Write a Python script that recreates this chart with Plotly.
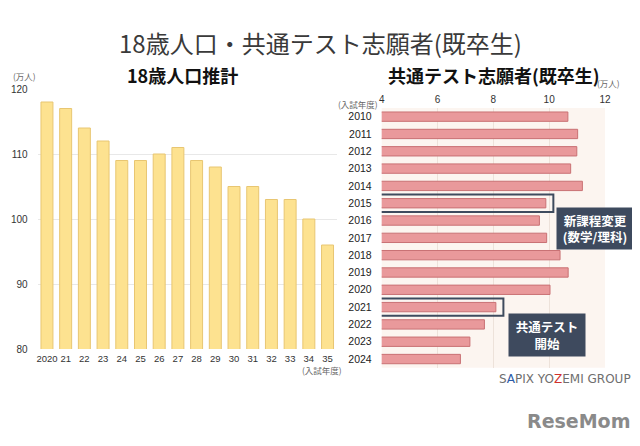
import plotly.graph_objects as go

# ---- data ----
pop_years = ["2020", "21", "22", "23", "24", "25", "26", "27", "28", "29",
             "30", "31", "32", "33", "34", "35"]
pop_values = [118, 117, 114, 112, 109, 109, 110, 111, 109, 108,
              105, 105, 103, 103, 100, 96]

app_years = ["2010", "2011", "2012", "2013", "2014", "2015", "2016", "2017",
             "2018", "2019", "2020", "2021", "2022", "2023", "2024"]
app_values = [10.67, 11.02, 10.99, 10.77, 11.19, 9.88, 9.65, 9.91,
              10.39, 10.68, 10.03, 8.09, 7.68, 7.16, 6.82]

pop_ticks = [80, 90, 100, 110, 120]
app_ticks = [4, 6, 8, 10, 12]
highlight_years = ["2015", "2021"]

W, H = 640, 446
OX, OY = 8, 8  # page body margin offset
FONT = "Liberation Sans, Arial, sans-serif"
JP = "Noto Sans CJK JP, sans-serif"


def px(x):
    return (x - OX) / W


def py(y):
    return 1 - (y - OY) / H


fig = go.Figure()

fig.add_trace(go.Bar(
    x=pop_years, y=pop_values, xaxis="x", yaxis="y",
    marker=dict(color="#FDE290", line=dict(color="#E8C672", width=1)),
    showlegend=False, hoverinfo="x+y"))

fig.add_trace(go.Bar(
    x=app_values, y=app_years, orientation="h", xaxis="x2", yaxis="y2",
    base=0, width=0.54,
    marker=dict(color="#E9999B", line=dict(color="#C97174", width=1)),
    showlegend=False, hoverinfo="x+y"))

fig.update_layout(
    width=W, height=H,
    margin=dict(l=0, r=0, t=0, b=0, pad=0, autoexpand=False),
    paper_bgcolor="white", plot_bgcolor="rgba(0,0,0,0)",
    font=dict(family=FONT, color="#333"),
    bargap=0.36,
    xaxis=dict(domain=[px(37.6), px(336.9)], range=[-0.5, 15.5],
               type="category", showgrid=False, zeroline=False,
               showline=False, ticks="", tickfont=dict(size=9.5, color="#333"),
               ticklabelstandoff=2, fixedrange=True, automargin=False),
    yaxis=dict(domain=[py(349), py(89)], range=[80, 120],
               tickvals=pop_ticks, showgrid=True, gridcolor="#E8E8E8",
               gridwidth=1, zeroline=False, showline=False, ticks="",
               tickfont=dict(size=10, color="#333"), ticklabelstandoff=9,
               fixedrange=True, automargin=False),
    xaxis2=dict(domain=[px(381.7), px(605)], range=[4, 12], anchor="y2",
                side="top", tickvals=app_ticks, showgrid=True,
                gridcolor="#EDE2DA", gridwidth=1, zeroline=False,
                showline=False, ticks="", tickfont=dict(size=10, color="#333"),
                ticklabelstandoff=2, fixedrange=True, automargin=False),
    yaxis2=dict(domain=[py(367.7), py(108)], range=[14.5, -0.5],
                type="category", anchor="x2", showgrid=False, zeroline=False,
                showline=False, ticks="", tickfont=dict(size=10.5, color="#222"),
                ticklabelstandoff=9, fixedrange=True, automargin=False),
)

shapes = []
# right panel background
shapes.append(dict(type="rect", xref="x2 domain", yref="y2 domain",
                   x0=0, x1=1, y0=0, y1=1.0, fillcolor="#FCF5F0",
                   line=dict(width=0), layer="below"))
# highlight boxes around selected rows
for yr in highlight_years:
    i = app_years.index(yr)
    shapes.append(dict(type="rect", xref="x2", yref="y2",
                       x0=2.83, x1=app_values[i] + 0.27,
                       y0=i - 0.5, y1=i + 0.5,
                       line=dict(color="#3E4B5E", width=2),
                       fillcolor="rgba(0,0,0,0)", layer="above"))
fig.update_layout(shapes=shapes)


def note(text, x, y, size, color, family=JP, **kw):
    d = dict(text=text, x=px(x), y=py(y), xref="paper", yref="paper",
             xanchor="center", yanchor="middle", showarrow=False,
             font=dict(family=family, size=size, color=color))
    d.update(kw)
    return d


ann = [
    note("18歳人口・共通テスト志願者(既卒生)", 320, 42, 24, "#3A3A3A"),
    note("<b>18歳人口推計</b>", 182, 75, 18, "#111"),
    note("<b>共通テスト志願者(既卒生)</b>", 494, 75, 18, "#111"),
    note("(万人)", 24, 76, 8.5, "#666"),
    note("(入試年度)", 322, 370, 8.5, "#666"),
    note("(万人)", 608, 83, 8.5, "#666"),
    note("(入試年度)", 358, 104, 8.5, "#666"),
    note("<b>新課程変更<br>(数学/理科)</b>", 594.5, 228.5, 12.5, "white",
         width=76, height=41, bgcolor="#3E4A5E", borderpad=0),
    note("<b>共通テスト<br>開始</b>", 547, 335, 12.5, "white",
         width=76, height=42, bgcolor="#3E4A5E", borderpad=0),
    note("S<span style='color:#2B5BA8'>A</span>PIX YO"
         "<span style='color:#D0312D'>Z</span>EMI GROUP", 565, 379, 12,
         "#6E6E6E", family="DejaVu Sans, sans-serif"),
    note("<b>ReseMom</b>", 578, 421, 19, "#8A8A8A",
         family="DejaVu Sans, sans-serif"),
]
fig.update_layout(annotations=ann)

fig.write_html("out.html")
